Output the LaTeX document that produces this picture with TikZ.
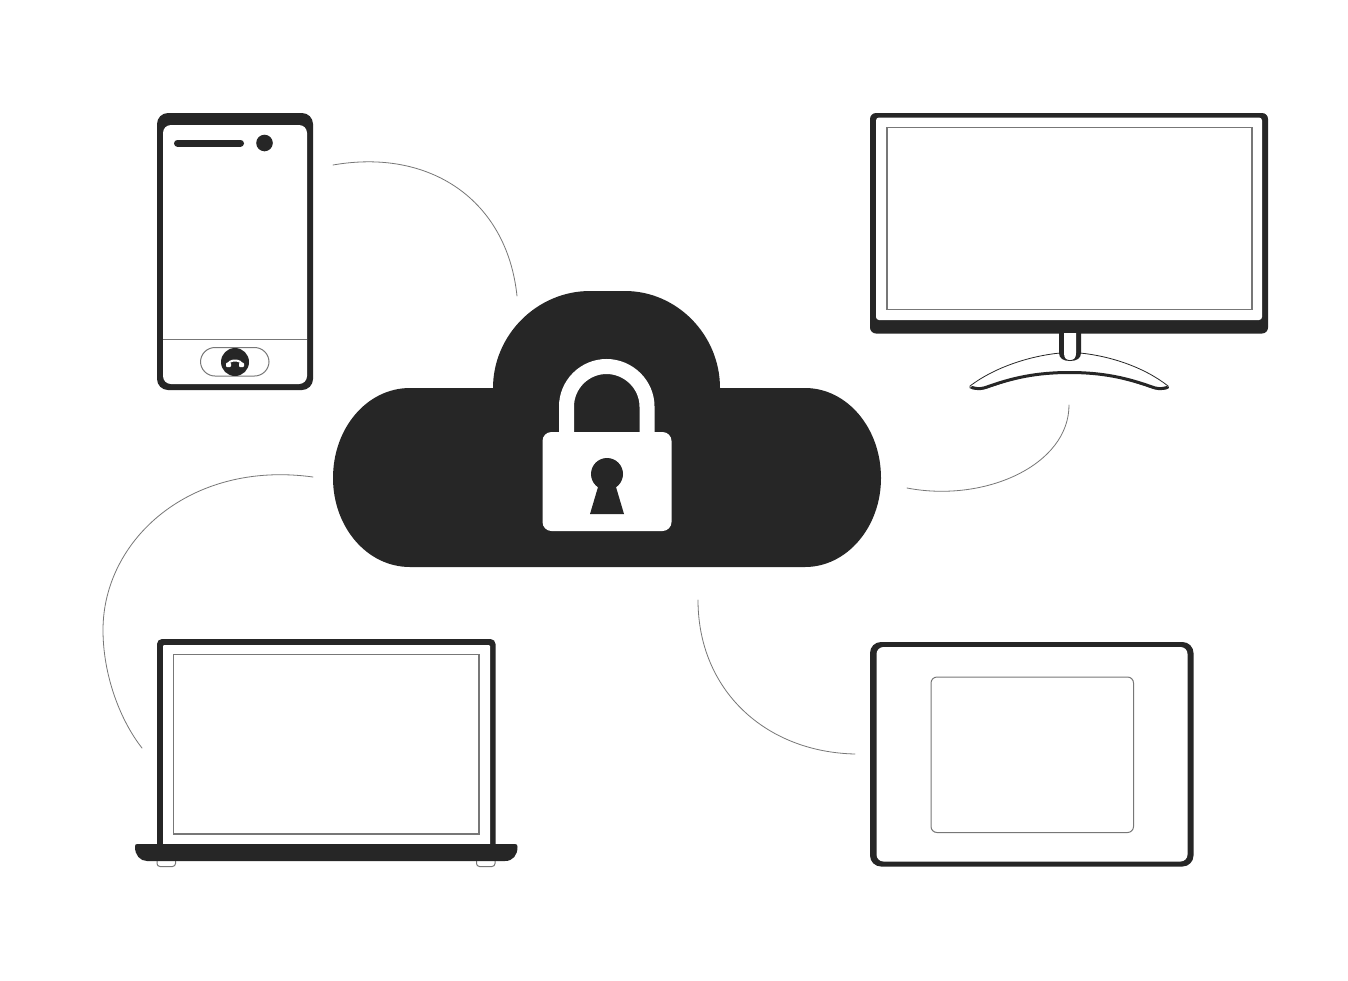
\documentclass[tikz,border=0pt]{standalone}
\definecolor{ink}{HTML}{262626}
\definecolor{hair}{HTML}{777777}
\tikzset{
  px/.style={x=1pt,y=-1pt},
  hairline/.style={draw=hair,line width=1pt},
  link/.style={draw=hair,line width=0.8pt,line cap=round},
}
\begin{document}
\begin{tikzpicture}[px]
\useasboundingbox (0,0) rectangle (1348,980);
\fill[white] (0,0) rectangle (1348,980);

% Phone
\fill[ink,rounded corners=11pt] (157,113) rectangle (313,390);
\fill[white,rounded corners=8pt] (163,125) rectangle (307,384);
\draw[hairline] (163,339.5) -- (307,339.5);
\draw[ink,line width=7pt,line cap=round] (177.5,143) -- (240.5,143);
\fill[ink] (264.5,143) circle (8.3);
\draw[hairline,rounded corners=14.5pt] (200.5,347.5) rectangle (269,376);
\fill[ink] (235,362) circle (14);
\draw[white,line width=2pt] (228,365) .. controls (228,359) and (242,359) .. (242,365);
\fill[white,rounded corners=1pt] (226,362.5) rectangle (231,367);
\fill[white,rounded corners=1pt] (239,362.5) rectangle (244,367);

% Monitor
\fill[ink,rounded corners=6pt] (870,113) rectangle (1268,333.5);
\fill[white,rounded corners=3pt] (876,117.5) rectangle (1262,320);
\draw[hairline,line width=1.4pt] (887,127.5) rectangle (1252,309.5);
% Stand
\draw[ink,line width=0.8pt,fill=white] (1060,353) .. controls (1030,356) and (995,367) .. (970,386)
  .. controls (968,389) and (975,390) .. (985,388.5)
  .. controls (1010,380) and (1035,372) .. (1069.5,372)
  .. controls (1104,372) and (1129,380) .. (1154,388.5)
  .. controls (1164,390) and (1171,389) .. (1168,386)
  .. controls (1144,367) and (1110,356) .. (1080,353);
\draw[ink,line width=3pt,line cap=round] (972,387.5) .. controls (978,389.5) and (983,388.5) .. (987,387)
  .. controls (1012,378) and (1036,372.5) .. (1069.5,372.5)
  .. controls (1103,372.5) and (1127,378) .. (1152,387)
  .. controls (1156,388.5) and (1161,389.5) .. (1167,387.5);
% Neck
\fill[ink] (1059,333) -- (1081,333) -- (1081,353)
  .. controls (1081,358) and (1077,361) .. (1070,361)
  .. controls (1063,361) and (1059,358) .. (1059,353) -- cycle;
\fill[white] (1064,333) -- (1076,333) -- (1076,353)
  .. controls (1076,358) and (1074,360) .. (1070,360)
  .. controls (1066,360) and (1064,358) .. (1064,353) -- cycle;

% Cloud
\fill[ink] (410,567) -- (805,567)
  .. controls (847,567) and (881,527) .. (881,478)
  .. controls (881,428) and (847,388) .. (805,388)
  -- (720,388)
  .. controls (720,335) and (677,291) .. (625,291)
  -- (590,291)
  .. controls (537,291) and (493,335) .. (493,388)
  -- (410,388)
  .. controls (367,388) and (333,428) .. (333,478)
  .. controls (333,527) and (367,567) .. (410,567) -- cycle;

% Padlock
\draw[white,line width=15pt] (566.5,434) -- (566.5,406.5)
  .. controls (566.5,384.5) and (584.5,366.5) .. (606.5,366.5)
  .. controls (628.5,366.5) and (647,384.5) .. (647,406.5) -- (647,434);
\fill[white,rounded corners=9pt] (542.5,432) rectangle (671.5,531);
\fill[ink] (607,474) circle (16);
\fill[ink] (599.5,482) -- (614.5,482) -- (624,514) -- (590,514) -- cycle;

% Laptop
\fill[ink,rounded corners=5pt] (157,639) rectangle (495.5,850);
\fill[white,rounded corners=1pt] (163,645) rectangle (490,846);
\draw[hairline,line width=1.4pt] (173.5,654.5) rectangle (479,834);
\draw[hairline,fill=white,rounded corners=3pt] (157,855) -- (157,866.5) -- (175.5,866.5) -- (175.5,855);
\draw[hairline,fill=white,rounded corners=3pt] (476.5,855) -- (476.5,866.5) -- (495,866.5) -- (495,855);
\fill[ink] (137,844) -- (515,844) .. controls (517,844) and (517.5,845) .. (517.5,847)
  .. controls (517.5,855) and (513,861) .. (505,861) -- (147,861)
  .. controls (140,861) and (135,855) .. (135,847) .. controls (135,845) and (135.5,844) .. (137,844) -- cycle;

% Tablet
\fill[ink,rounded corners=11pt] (870,642) rectangle (1193.5,866.5);
\fill[white,rounded corners=7pt] (876.5,647) rectangle (1187.5,861.5);
\draw[hairline,rounded corners=6pt] (931,677) rectangle (1133.5,832.5);

% Connectors
\coordinate (phoneEnd) at (333,165);
\coordinate (cloudTop) at (517,296);
\coordinate (monitorEnd) at (1069,405);
\coordinate (cloudRight) at (907,488);
\coordinate (cloudLeft) at (313,477);
\coordinate (laptopEnd) at (142,748);
\coordinate (cloudBottom) at (698,600);
\coordinate (tabletEnd) at (855,754);
\draw[link] (phoneEnd) .. controls (430,148) and (507,200) .. (cloudTop);
\draw[link] (monitorEnd) .. controls (1069,465) and (985,503) .. (cloudRight);
\draw[link] (cloudLeft) .. controls (190,460) and (103,540) .. (103,630)
  .. controls (103,675) and (120,720) .. (laptopEnd);
\draw[link] (cloudBottom) .. controls (698,690) and (765,752) .. (tabletEnd);
\end{tikzpicture}
\end{document}
